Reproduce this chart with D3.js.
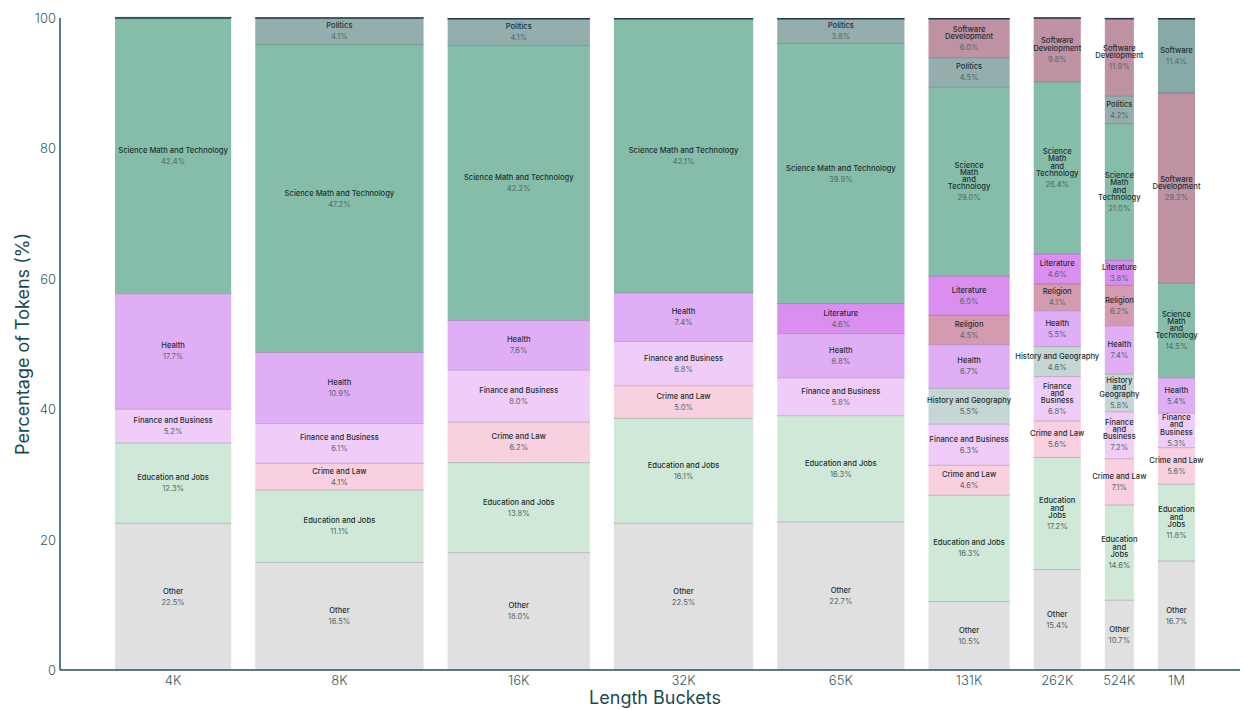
<!DOCTYPE html>
<html lang="en">
<head>
  <meta charset="utf-8">
  <title>Topic mix by length bucket</title>
  <script src="https://d3js.org/d3.v7.min.js"></script>
  <style>
    body { margin: 0; background: #fff; }
    text { font-family: Inter, "Noto Sans", sans-serif; }
    .axis-title { font-size: 18px; fill: #1c4a50; font-weight: 400; }
    .tick-label { font-size: 13px; fill: #2f5e62; font-weight: 300; }
    .seg-name { font-size: 7.6px; fill: #1e2f33; font-weight: 500; }
    .seg-pct { font-size: 7.6px; fill: #52696a; }
  </style>
</head>
<body>
<svg id="chart" width="1243" height="709"></svg>
<script>
"use strict"
// buckets and their relative bar size
var buckets = ["4K", "8K", "16K", "32K", "65K", "131K", "262K", "524K", "1M"];
var bucketSize = [11.6, 16.8, 14.2, 13.9, 12.7, 8.1, 4.7, 2.9, 3.7];

// stacking order, bottom to top
var topics = ["Other", "Education and Jobs", "Crime and Law", "Finance and Business",
  "History and Geography", "Health", "Religion", "Literature",
  "Science Math and Technology", "Politics", "Software Development", "Software"];

// share of tokens (%) per bucket, 0 = not shown
var otherPct      = [22.5, 16.5, 18.0, 22.5, 22.7, 10.5, 15.4, 10.7, 16.7];
var educationPct  = [12.3, 11.1, 13.8, 16.1, 16.3, 16.3, 17.2, 14.6, 11.8];
var crimePct      = [0, 4.1, 6.2, 5.0, 0, 4.6, 5.6, 7.1, 5.6];
var financePct    = [5.2, 6.1, 8.0, 6.8, 5.8, 6.3, 6.8, 7.2, 5.3];
var historyPct    = [0, 0, 0, 0, 0, 5.5, 4.6, 5.8, 0];
var healthPct     = [17.7, 10.9, 7.6, 7.4, 6.8, 6.7, 5.5, 7.4, 5.4];
var religionPct   = [0, 0, 0, 0, 0, 4.5, 4.1, 6.2, 0];
var literaturePct = [0, 0, 0, 0, 4.6, 6.0, 4.6, 3.8, 0];
var sciencePct    = [42.4, 47.2, 42.2, 42.1, 39.9, 29.0, 26.4, 21.0, 14.5];
var politicsPct   = [0, 4.1, 4.1, 0, 3.8, 4.5, 0, 4.2, 0];
var softdevPct    = [0, 0, 0, 0, 0, 6.0, 9.8, 11.9, 29.2];
var softwarePct   = [0, 0, 0, 0, 0, 0, 0, 0, 11.4];

var yTicks = [0, 20, 40, 60, 80, 100];

// labels that get one word per line, per bucket
var wrapped = {
  "131K": ["Software Development", "Science Math and Technology"],
  "262K": ["Software Development", "Science Math and Technology", "Finance and Business", "Education and Jobs"],
  "524K": ["Software Development", "Science Math and Technology", "History and Geography", "Finance and Business", "Education and Jobs"],
  "1M":   ["Software Development", "Science Math and Technology", "Finance and Business", "Education and Jobs"]
};

var series = [otherPct, educationPct, crimePct, financePct, historyPct, healthPct,
  religionPct, literaturePct, sciencePct, politicsPct, softdevPct, softwarePct];
var colors = ["#e0e0e0", "#cfe8d8", "#f9d0e0", "#efcdf8", "#c5d6d4", "#e0aef4",
  "#d49aaf", "#d98ef0", "#86bda8", "#94aeae", "#be92a2", "#87a9a7"];
var color = d3.scaleOrdinal().domain(topics).range(colors);

var rows = buckets.map(function(b, i) {
  var r = { bucket: b };
  topics.forEach(function(t, j) { r[t] = series[j][i]; });
  return r;
});
var stacked = d3.stack().keys(topics)(rows);

var svg = d3.select("#chart");
var margin = { left: 60, right: 3, top: 18, bottom: 39 };
var W = 1243, H = 709;

var y = d3.scaleLinear().domain([0, 100]).range([H - margin.bottom, margin.top]);

// bars laid out side by side, width from bucketSize, fixed gap
var gap = 2.4;
var starts = [], acc = 0;
bucketSize.forEach(function(s) { starts.push(acc); acc += s + gap; });
acc -= gap;
var x = d3.scaleLinear().domain([0, acc]).range([115, 1195]);
function bx(i) { return x(starts[i]); }
function bw(i) { return x(starts[i] + bucketSize[i]) - x(starts[i]); }

var g = svg.append("g");
stacked.forEach(function(layer) {
  var c = color(layer.key);
  layer.forEach(function(d, i) {
    var v = d[1] - d[0];
    if (v <= 0) return;
    g.append("rect")
      .attr("x", bx(i)).attr("width", bw(i))
      .attr("y", y(d[1])).attr("height", y(d[0]) - y(d[1]))
      .attr("fill", c);
  });
});
// segment top edges
stacked.forEach(function(layer) {
  var edge = d3.color(color(layer.key)).darker(0.7).formatHex();
  layer.forEach(function(d, i) {
    if (d[1] - d[0] <= 0) return;
    g.append("line")
      .attr("x1", bx(i)).attr("x2", bx(i) + bw(i))
      .attr("y1", y(d[1])).attr("y2", y(d[1]))
      .attr("stroke", edge).attr("stroke-width", 1).attr("opacity", 0.8);
  });
});
// dark line on top of each bar
buckets.forEach(function(b, i) {
  var tot = d3.sum(series, function(s) { return s[i]; });
  g.append("line")
    .attr("x1", bx(i)).attr("x2", bx(i) + bw(i))
    .attr("y1", y(Math.min(tot, 100))).attr("y2", y(Math.min(tot, 100)))
    .attr("stroke", "#24384a").attr("stroke-width", 1.5);
});

// segment labels
stacked.forEach(function(layer) {
  layer.forEach(function(d, i) {
    var v = d[1] - d[0];
    if (v <= 0) return;
    var b = buckets[i];
    var lines = (wrapped[b] && wrapped[b].indexOf(layer.key) >= 0) ? layer.key.split(" ") : [layer.key];
    var lh = 7.2, pctGap = 11;
    var blockH = (lines.length - 1) * lh + pctGap;
    var mid = (y(d[0]) + y(d[1])) / 2;
    var cx = bx(i) + bw(i) / 2;
    var top = mid - blockH / 2;
    lines.forEach(function(l, k) {
      g.append("text").attr("class", "seg-name")
        .attr("x", cx).attr("y", top + k * lh)
        .attr("text-anchor", "middle").attr("dominant-baseline", "central")
        .text(l);
    });
    g.append("text").attr("class", "seg-pct")
      .attr("x", cx).attr("y", top + (lines.length - 1) * lh + pctGap)
      .attr("text-anchor", "middle").attr("dominant-baseline", "central")
      .text(v.toFixed(1) + "%");
  });
});

// axes
svg.append("line")
  .attr("x1", margin.left).attr("x2", margin.left)
  .attr("y1", y(100)).attr("y2", y(0))
  .attr("stroke", "#1f5358").attr("stroke-width", 1.5);
svg.append("line")
  .attr("x1", margin.left).attr("x2", W - margin.right)
  .attr("y1", y(0)).attr("y2", y(0))
  .attr("stroke", "#1f5358").attr("stroke-width", 1.5);

svg.selectAll(".ytick").data(yTicks).enter().append("text")
  .attr("class", "tick-label")
  .attr("x", 56).attr("y", function(d) { return y(d); })
  .attr("text-anchor", "end").attr("dominant-baseline", "central")
  .text(function(d) { return d; });

svg.selectAll(".xtick").data(buckets).enter().append("text")
  .attr("class", "tick-label")
  .attr("x", function(d, i) { return bx(i) + bw(i) / 2; })
  .attr("y", 680).attr("text-anchor", "middle").attr("dominant-baseline", "central")
  .text(function(d) { return d; });

svg.append("text").attr("class", "axis-title")
  .attr("x", 655).attr("y", 697.5)
  .attr("text-anchor", "middle").attr("dominant-baseline", "central")
  .text("Length Buckets");

svg.append("text").attr("class", "axis-title")
  .attr("transform", "translate(22," + ((y(0) + y(100)) / 2) + ") rotate(-90)")
  .attr("text-anchor", "middle").attr("dominant-baseline", "central")
  .text("Percentage of Tokens (%)");
</script>
</body>
</html>
